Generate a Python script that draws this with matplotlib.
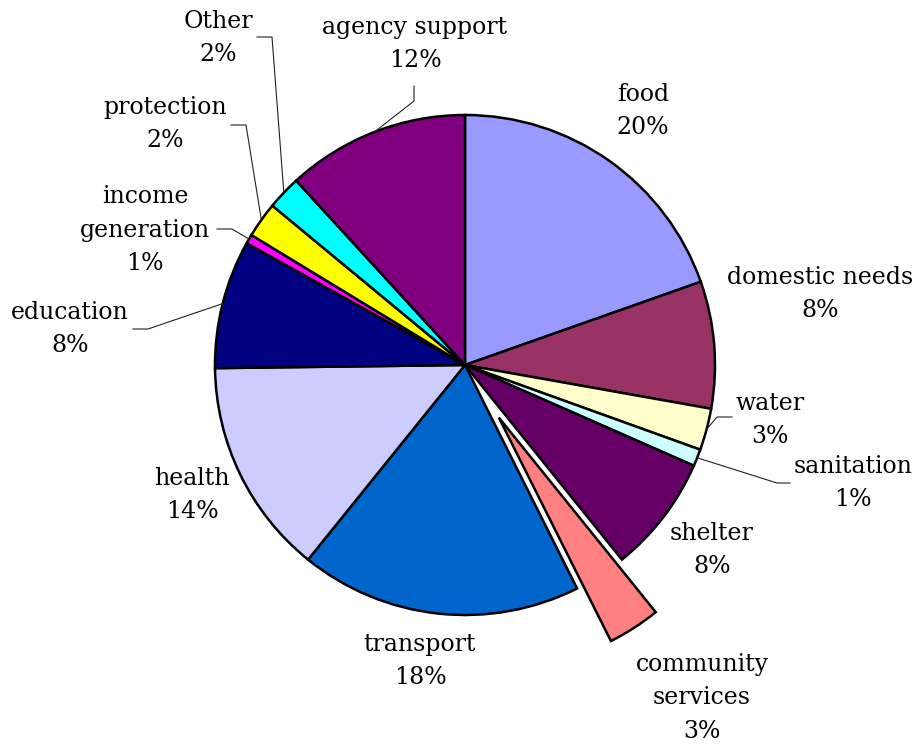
import matplotlib
matplotlib.use("Agg")
import matplotlib.pyplot as plt
import numpy as np

categories = [
    "food", "domestic needs", "water", "sanitation", "shelter",
    "community\nservices", "transport", "health", "education",
    "income\ngeneration", "protection", "Other", "agency support",
]
values = [19.6, 8.2, 2.7, 1.1, 7.6, 3.4, 18.2, 14.0, 8.3, 0.6, 2.3, 2.2, 11.8]
colors = [
    "#9999FF", "#993366", "#FFFFCC", "#CCFFFF", "#660066",
    "#FF8080", "#0066CC", "#CCCCFF", "#000080",
    "#FF00FF", "#FFFF00", "#00FFFF", "#800080",
]
explode = [0, 0, 0, 0, 0, 0.25, 0, 0, 0, 0, 0, 0, 0]

# label layout, in pixels of the 918x747 figure (centre of each text block)
CX, CY, R = 465, 365, 250
label_px = {
    "food": (643, 111),
    "domestic needs": (820, 294),
    "water": (770, 420),
    "sanitation": (853, 483),
    "shelter": (712, 550),
    "community\nservices": (702, 698),
    "transport": (420, 661),
    "health": (192, 495),
    "education": (70, 329),
    "income\ngeneration": (145, 230),
    "protection": (165, 124),
    "Other": (218, 38),
    "agency support": (415, 44),
}
# leader lines: elbow and end, pixels
leader_px = {
    "agency support": [(414, 101), (414, 86)],
    "Other": [(272, 37), (257, 37)],
    "protection": [(246, 125), (231, 125)],
    "income\ngeneration": [(232, 229), (217, 229)],
    "education": [(148, 329), (133, 329)],
    "water": [(717, 417), (732, 417)],
    "sanitation": [(777, 483), (790, 483)],
}


def px(x, y):
    return (x - CX) / R, (CY - y) / R


fig = plt.figure(figsize=(9.18, 7.47), dpi=100)
ax = fig.add_axes([0, 0, 1, 1])

wedges, _ = ax.pie(
    values,
    colors=colors,
    explode=explode,
    startangle=90,
    counterclock=False,
    wedgeprops=dict(edgecolor="black", linewidth=1.8),
)

total = sum(values)
for w, name, v in zip(wedges, categories, values):
    text = f"{name}\n{round(v / total * 100):.0f}%"
    tx, ty = px(*label_px[name])
    ax.text(tx, ty, text, ha="center", va="center", fontsize=17,
            family="DejaVu Serif", linespacing=1.6)
    if name in leader_px:
        mid = np.deg2rad((w.theta1 + w.theta2) / 2)
        pts = [(np.cos(mid), np.sin(mid))] + [px(*p) for p in leader_px[name]]
        ax.plot([p[0] for p in pts], [p[1] for p in pts], color="#222222", lw=0.8)

ax.set_xlim(-CX / R, (918 - CX) / R)
ax.set_ylim(-(747 - CY) / R, CY / R)
ax.set_aspect("auto")
ax.axis("off")

fig.savefig("out.png", dpi=100)
